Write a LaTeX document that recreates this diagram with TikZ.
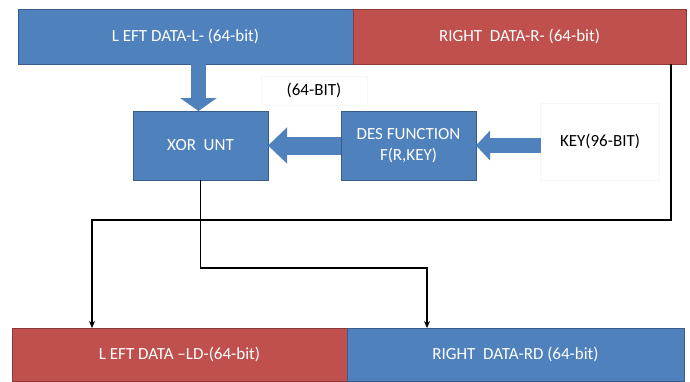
\documentclass[tikz,border=0pt]{standalone}
\usepackage{fontspec}
\setmainfont{Carlito}
\usepackage{tikz}
\usetikzlibrary{positioning, arrows.meta, calc}

\definecolor{boxblue}{HTML}{4F81BD}
\definecolor{boxblueline}{HTML}{385D8A}
\definecolor{boxred}{HTML}{C0504D}
\definecolor{boxredline}{HTML}{8C3836}

\begin{document}
\begin{tikzpicture}[x=1pt, y=-1pt,
  databox/.style={draw, line width=1pt, outer sep=0pt, inner sep=0pt, text=white, align=center,
    font=\fontsize{17}{21}\selectfont},
  bluebox/.style={databox, fill=boxblue, draw=boxblueline},
  redbox/.style={databox, fill=boxred, draw=boxredline},
  notebox/.style={draw=black!3, outer sep=0pt, inner sep=0pt, font=\fontsize{17}{21}\selectfont},
  fat/.style={boxblue, line width=15pt, -{Triangle[length=13pt, width=36pt]}},
  link/.style={line width=1.5pt, -{Stealth[length=7pt, width=6pt]}}
]
\useasboundingbox (0,0) rectangle (690,381);

\node[bluebox, anchor=north west, minimum width=335pt, minimum height=55pt] (left) at (18,9)
  {L EFT DATA-L- (64-bit)};
\node[redbox, right=0pt of left, minimum width=333pt, minimum height=55pt] (right)
  {RIGHT\ \ DATA-R- (64-bit)};

\node[bluebox, anchor=north west, minimum width=135pt, minimum height=69pt] (xor) at (133,111)
  {XOR\ \ UNT};
\node[bluebox, right=73pt of xor, minimum width=135pt, minimum height=69pt] (des)
  {DES FUNCTION\\F(R,KEY)};
\node[notebox, minimum width=119pt, minimum height=77pt] (key) at (600,141.5) {KEY(96-BIT)};
\node[notebox, minimum width=106pt, minimum height=29pt] (bits) at (314,90.5) {(64-BIT)};

\node[redbox, anchor=north west, minimum width=335pt, minimum height=53pt] (ld) at (12,328)
  {L EFT DATA --LD-(64-bit)};
\node[bluebox, right=0pt of ld, minimum width=337pt, minimum height=53pt] (rd)
  {RIGHT\ \ DATA-RD (64-bit)};

% block arrows
\draw[fat] ([xshift=-2pt]xor.north |- left.south) -- ([xshift=-2pt]xor.north);
\draw[fat, line width=18pt, -{Triangle[length=19pt, width=35pt]}] (des.west) -- (xor.east);
\draw[fat, -{Triangle[length=14pt, width=29pt]}] (key.west |- des.east) -- (des.east);

% wires
\draw[link] ([xshift=-15pt]right.south east) -- ++(0,156) -| ([xshift=80pt]ld.north west);
\draw[link] (xor.south) -- ++(0,88) -| ([xshift=80pt]rd.north west);
\end{tikzpicture}
\end{document}
